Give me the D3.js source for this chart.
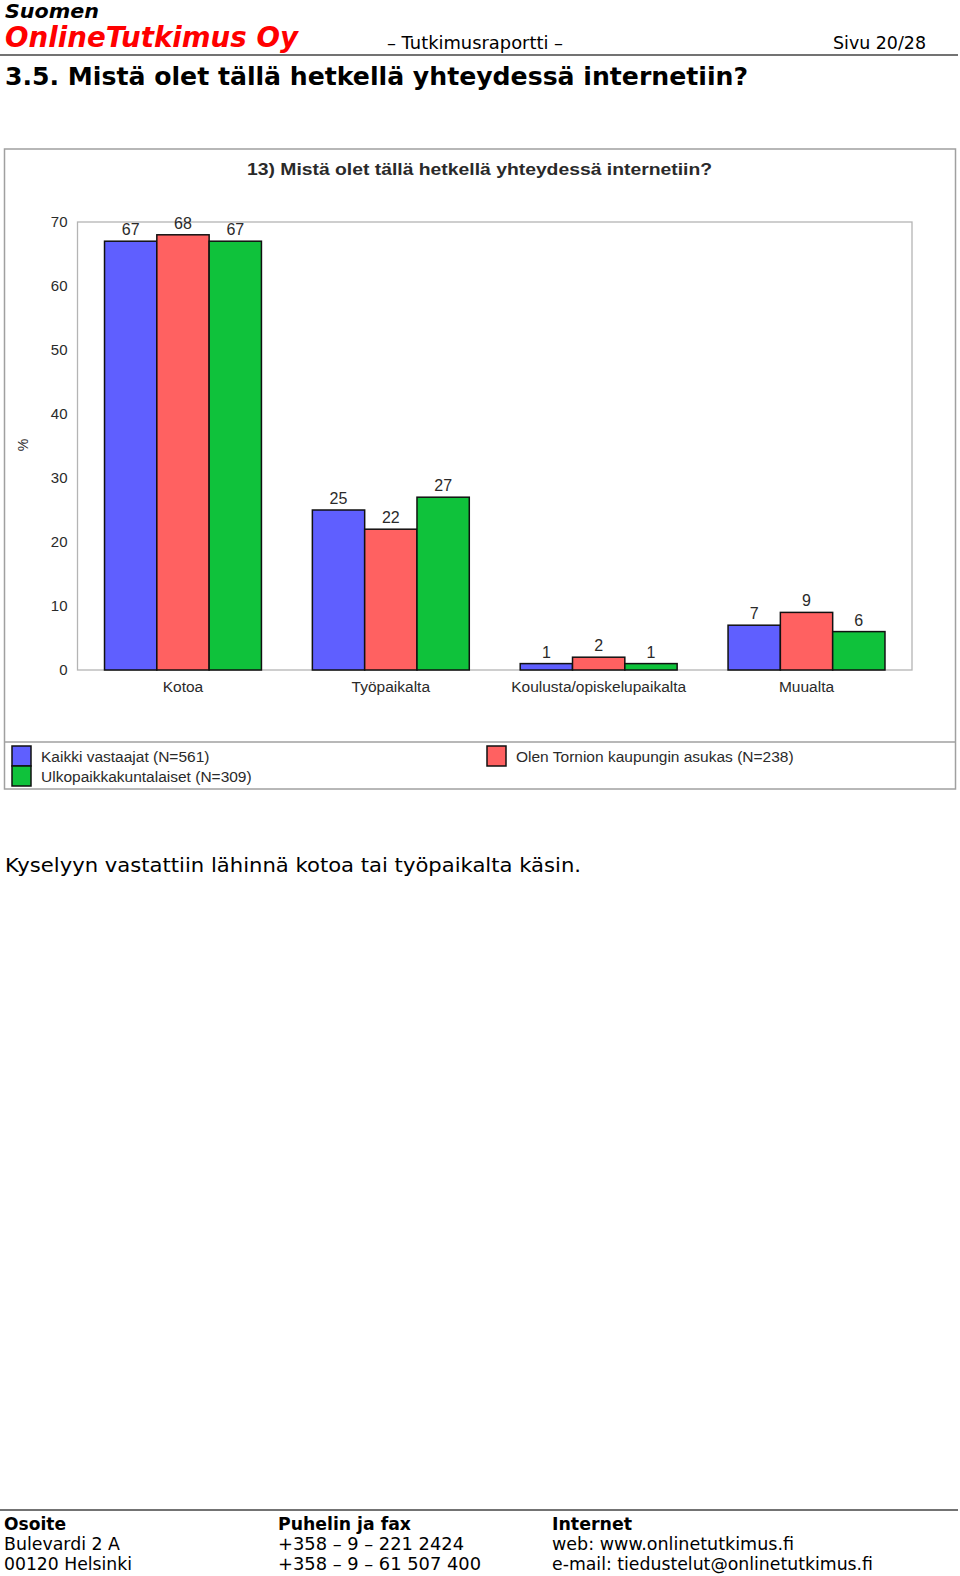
<!DOCTYPE html>
<html>
<head>
<meta charset="utf-8">
<script src="https://cdn.jsdelivr.net/npm/d3@7"></script>
<style>
  html, body { margin: 0; padding: 0; background: #fff; overflow: hidden; width: 960px; height: 1576px; }
  svg { display: block; }
</style>
</head>
<body>
<div id="page"></div>
<script>
// Chart data
const categories = ['Kotoa', 'Työpaikalta', 'Koulusta/opiskelupaikalta', 'Muualta'];
const seriesNames = ['Kaikki vastaajat (N=561)', 'Olen Tornion kaupungin asukas (N=238)', 'Ulkopaikkakuntalaiset (N=309)'];
const seriesColors = ['#5f5fff', '#ff6161', '#0fc23b'];
const kaikki = [67, 25, 1, 7];
const tornio = [68, 22, 2, 9];
const ulkopaikka = [67, 27, 1, 6];
const yTicks = [0, 10, 20, 30, 40, 50, 60, 70];

const seriesValues = [kaikki, tornio, ulkopaikka];

const W = 960, H = 1576;
const svg = d3.select('#page').append('svg')
  .attr('width', W)
  .attr('height', H);

// helper: text squeezed/stretched to a measured width
function txt(x, y, s, opts) {
  const t = svg.append('text')
    .attr('x', x)
    .attr('y', y)
    .attr('font-family', opts.family || 'DejaVu Sans, Verdana, sans-serif')
    .attr('font-size', opts.size)
    .attr('font-weight', opts.weight || 'normal')
    .attr('font-style', opts.style || 'normal')
    .attr('fill', opts.fill || '#000')
    .text(s);
  if (opts.len) t.attr('textLength', opts.len).attr('lengthAdjust', 'spacingAndGlyphs');
  return t;
}

// --- page header ---
txt(5, 18, 'Suomen', { size: 19, weight: 'bold', style: 'italic', len: 94 });
txt(5, 47, 'OnlineTutkimus Oy', { size: 28, weight: 'bold', style: 'italic', fill: '#ff0000', len: 293 });
txt(387, 49, '– Tutkimusraportti –', { size: 17, len: 176 });
txt(833, 49, 'Sivu 20/28', { size: 17, len: 93 });
svg.append('line')
  .attr('x1', 0).attr('x2', 958).attr('y1', 55).attr('y2', 55)
  .attr('stroke', '#444').attr('stroke-width', 1.5);
txt(5, 85, '3.5. Mistä olet tällä hetkellä yhteydessä internetiin?', { size: 24, weight: 'bold', len: 743 });

// --- chart frame ---
svg.append('rect')
  .attr('x', 4.5).attr('y', 149).attr('width', 951).attr('height', 640)
  .attr('fill', '#fff').attr('stroke', '#a0a0a0').attr('stroke-width', 1.5);
svg.append('line')
  .attr('x1', 4.5).attr('x2', 955.5).attr('y1', 742).attr('y2', 742)
  .attr('stroke', '#a0a0a0').attr('stroke-width', 1.5);

const chartFont = 'Liberation Sans, Arial, sans-serif';
const textCol = '#2a2a2a';

svg.append('text')
  .attr('x', 479.5).attr('y', 175)
  .attr('text-anchor', 'middle')
  .attr('font-family', chartFont)
  .attr('font-size', 17)
  .attr('font-weight', 'bold')
  .attr('fill', textCol)
  .attr('textLength', 465).attr('lengthAdjust', 'spacingAndGlyphs')
  .text('13) Mistä olet tällä hetkellä yhteydessä internetiin?');

// scales
const plot = { left: 77.5, right: 912, top: 222, bottom: 670 };
const y = d3.scaleLinear().domain([0, 70]).range([plot.bottom, plot.top]);
const x = d3.scaleBand().domain(categories)
  .range([plot.left, plot.right])
  .paddingInner(0.245)
  .paddingOuter(0.13);
const xs = d3.scaleBand().domain(d3.range(seriesNames.length)).range([0, x.bandwidth()]);

// plot area
svg.append('rect')
  .attr('x', plot.left).attr('y', plot.top)
  .attr('width', plot.right - plot.left).attr('height', plot.bottom - plot.top)
  .attr('fill', 'none').attr('stroke', '#b4b4b4').attr('stroke-width', 1.3);

// y axis
const yAxis = svg.append('g')
  .attr('transform', `translate(${plot.left - 10},0)`)
  .call(d3.axisLeft(y).tickValues(yTicks).tickSize(0).tickPadding(0));
yAxis.select('.domain').remove();
yAxis.selectAll('text')
  .attr('font-family', chartFont)
  .attr('font-size', 15)
  .attr('fill', textCol);

svg.append('text')
  .attr('transform', 'translate(28,445) rotate(-90)')
  .attr('text-anchor', 'middle')
  .attr('font-family', chartFont)
  .attr('font-size', 14)
  .attr('fill', textCol)
  .text('%');

// x axis labels
const xAxis = svg.append('g')
  .attr('transform', `translate(0,${plot.bottom + 11})`)
  .call(d3.axisBottom(x).tickSize(0).tickPadding(0));
xAxis.select('.domain').remove();
xAxis.selectAll('text')
  .attr('font-family', chartFont)
  .attr('font-size', 15.5)
  .attr('fill', textCol);

// bars
const rows = [];
categories.forEach((c, ci) => {
  seriesValues.forEach((vals, si) => rows.push({ cat: c, si, v: vals[ci] }));
});

const bars = svg.append('g');
bars.selectAll('rect')
  .data(rows)
  .join('rect')
  .attr('x', d => x(d.cat) + xs(d.si))
  .attr('y', d => y(d.v))
  .attr('width', xs.bandwidth())
  .attr('height', d => y(0) - y(d.v))
  .attr('fill', d => seriesColors[d.si])
  .attr('stroke', '#111')
  .attr('stroke-width', 1.5);

bars.selectAll('text')
  .data(rows)
  .join('text')
  .attr('x', d => x(d.cat) + xs(d.si) + xs.bandwidth() / 2)
  .attr('y', d => y(d.v) - 6)
  .attr('text-anchor', 'middle')
  .attr('font-family', chartFont)
  .attr('font-size', 16)
  .attr('fill', textCol)
  .text(d => d.v);

// legend
const legendPos = [[12, 746], [487, 746], [12, 766]];
const legend = svg.append('g');
seriesNames.forEach((name, i) => {
  const [lx, ly] = legendPos[i];
  legend.append('rect')
    .attr('x', lx).attr('y', ly).attr('width', 19).attr('height', 20)
    .attr('fill', seriesColors[i]).attr('stroke', '#111').attr('stroke-width', 1.5);
  legend.append('text')
    .attr('x', lx + 29).attr('y', ly + 16)
    .attr('font-family', chartFont)
    .attr('font-size', 15.5)
    .attr('fill', textCol)
    .text(name);
});

// --- body text ---
txt(5, 872, 'Kyselyyn vastattiin lähinnä kotoa tai työpaikalta käsin.', { size: 20, len: 576 });

// --- footer ---
svg.append('line')
  .attr('x1', 0).attr('x2', 958).attr('y1', 1510).attr('y2', 1510)
  .attr('stroke', '#444').attr('stroke-width', 1.5);
txt(4, 1530, 'Osoite', { size: 18, weight: 'bold', len: 62 });
txt(4, 1550, 'Bulevardi 2 A', { size: 18, len: 116 });
txt(4, 1570, '00120 Helsinki', { size: 18, len: 128 });
txt(278, 1530, 'Puhelin ja fax', { size: 18, weight: 'bold', len: 133 });
txt(278, 1550, '+358 – 9 – 221 2424', { size: 18, len: 186 });
txt(278, 1570, '+358 – 9 – 61 507 400', { size: 18, len: 203 });
txt(552, 1530, 'Internet', { size: 18, weight: 'bold', len: 80 });
txt(552, 1550, 'web: www.onlinetutkimus.fi', { size: 18, len: 242 });
txt(552, 1570, 'e-mail: tiedustelut@onlinetutkimus.fi', { size: 18, len: 321 });
</script>
</body>
</html>
